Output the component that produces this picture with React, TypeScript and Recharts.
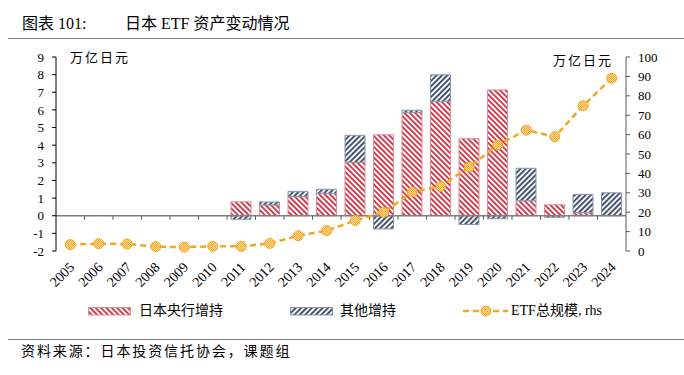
// 日本ETF资产变动情况 — 堆叠柱（央行/其他增持）+ 右轴总规模折线
import React from 'react';
import {
  ComposedChart,
  Bar,
  Line,
  XAxis,
  YAxis,
  ReferenceLine,
} from 'recharts';

const years = [
  '2005', '2006', '2007', '2008', '2009', '2010', '2011', '2012', '2013', '2014',
  '2015', '2016', '2017', '2018', '2019', '2020', '2021', '2022', '2023', '2024',
];
// 万亿日元
const bojBuy = [0, 0, 0, 0, 0, 0, 0.79, 0.61, 1.08, 1.27, 3.03, 4.59, 5.86, 6.49, 4.37, 7.13, 0.85, 0.62, 0.17, 0];
const otherBuy = [0, 0, 0, 0, 0, 0, -0.2, 0.17, 0.3, 0.23, 1.53, -0.75, 0.12, 1.5, -0.5, -0.17, 1.84, -0.09, 1.04, 1.3];
const etfTotal = [3.3, 3.8, 3.6, 2.2, 2.0, 2.4, 2.4, 3.9, 7.9, 10.5, 15.7, 20, 30.4, 33.3, 43.3, 54.6, 62.3, 58.9, 74.9, 89.1];

const leftTicks = [-2, -1, 0, 1, 2, 3, 4, 5, 6, 7, 8, 9];
const rightTicks = [0, 10, 20, 30, 40, 50, 60, 70, 80, 90, 100];

const data = years.map((y, i) => ({
  year: y,
  boj: bojBuy[i],
  other: otherBuy[i],
  etf: etfTotal[i],
}));

const FONT = "'Liberation Serif', 'Noto Sans CJK SC', serif";
const RED = '#D13B4B';
const BLUE = '#44546A';
const ORANGE = '#F5A623';

function YearTick({ x, y, payload }: any) {
  const px = x + 5;
  const py = y + 17;
  return (
    <text
      x={px}
      y={py}
      transform={`rotate(-45, ${px}, ${py})`}
      textAnchor="end"
      fontSize={14}
      fontFamily={FONT}
      fill="#000"
    >
      {payload.value}
    </text>
  );
}

function Patterns() {
  return (
    <svg width={0} height={0} style={{ position: 'absolute' }}>
      <defs>
        <pattern id="bojHatch" patternUnits="userSpaceOnUse" width={3.8} height={3.8} patternTransform="rotate(-45)">
          <rect width={3.8} height={3.8} fill="#fff" />
          <rect width={1.9} height={3.8} fill={RED} />
        </pattern>
        <pattern id="otherHatch" patternUnits="userSpaceOnUse" width={3.8} height={3.8} patternTransform="rotate(45)">
          <rect width={3.8} height={3.8} fill="#fff" />
          <rect width={2} height={3.8} fill={BLUE} />
        </pattern>
        <pattern id="dotFill" patternUnits="userSpaceOnUse" width={2} height={2}>
          <rect width={2} height={2} fill="#FFE1A8" />
          <rect width={1} height={1} fill={ORANGE} />
          <rect x={1} y={1} width={1} height={1} fill={ORANGE} />
        </pattern>
      </defs>
    </svg>
  );
}

function Legend() {
  const text: React.CSSProperties = {
    position: 'absolute',
    top: 302,
    fontSize: 14,
    fontFamily: FONT,
    lineHeight: '18px',
  };
  return (
    <>
      <svg width={44} height={9} style={{ position: 'absolute', left: 88, top: 307 }}>
        <rect x={0.5} y={0.5} width={42} height={7.5} fill="url(#bojHatch)" stroke="#E08A95" />
      </svg>
      <div style={{ ...text, left: 139 }}>日本央行增持</div>
      <svg width={44} height={9} style={{ position: 'absolute', left: 290, top: 307 }}>
        <rect x={0.5} y={0.5} width={42} height={7.5} fill="url(#otherHatch)" stroke="#8497B0" />
      </svg>
      <div style={{ ...text, left: 340 }}>其他增持</div>
      <svg width={48} height={14} style={{ position: 'absolute', left: 462, top: 304 }}>
        <line x1={1} y1={7} x2={46} y2={7} stroke={ORANGE} strokeWidth={2.5} strokeDasharray="6 4" />
        <circle cx={24} cy={7} r={5} fill="url(#dotFill)" stroke={ORANGE} strokeWidth={1} />
      </svg>
      <div style={{ ...text, left: 511 }}>ETF总规模, rhs</div>
    </>
  );
}

export default function App() {
  return (
    <div style={{ position: 'absolute', left: 0, top: 0, width: 684, height: 375, background: '#fff', fontFamily: FONT }}>
      <Patterns />
      <div style={{ position: 'absolute', left: 22, top: 10, fontSize: 16 }}>图表 101:</div>
      <div style={{ position: 'absolute', left: 125, top: 10, fontSize: 16 }}>日本 ETF 资产变动情况</div>
      <div style={{ position: 'absolute', left: 8, top: 38, width: 676, borderTop: '1.5px solid #808080' }} />

      <div style={{ position: 'absolute', left: 70, top: 47, fontSize: 13, letterSpacing: 2 }}>万亿日元</div>
      <div style={{ position: 'absolute', left: 553, top: 50, fontSize: 13, letterSpacing: 2 }}>万亿日元</div>

      <div style={{ position: 'absolute', left: 0, top: 0 }}>
        <ComposedChart
          width={684}
          height={375}
          data={data}
          stackOffset="sign"
          margin={{ top: 57, right: 18, bottom: 84, left: 16 }}
        >
          <XAxis
            dataKey="year"
            xAxisId="x"
            axisLine={false}
            tickLine={false}
            tickSize={0}
            tickMargin={0}
            height={40}
            interval={0}
            tick={<YearTick />}
          />
          <YAxis
            yAxisId="left"
            domain={[-2, 9]}
            ticks={leftTicks}
            interval={0}
            width={40}
            axisLine={{ stroke: '#000' }}
            tickLine={{ stroke: '#000' }}
            tickSize={4}
            tickMargin={8}
            tick={{ fontSize: 13, fill: '#000', fontFamily: FONT }}
          />
          <YAxis
            yAxisId="right"
            orientation="right"
            domain={[0, 100]}
            ticks={rightTicks}
            interval={0}
            width={40}
            axisLine={{ stroke: '#595959' }}
            tickLine={{ stroke: '#595959' }}
            tickSize={4}
            tickMargin={8}
            tick={{ fontSize: 13, fill: '#000', fontFamily: FONT, textAnchor: 'start' }}
          />
          <ReferenceLine xAxisId="x" yAxisId="left" y={0} stroke="#808080" strokeWidth={1.5} />
          {years.slice(1).map((y) => (
            <ReferenceLine
              key={y}
              xAxisId="x"
              yAxisId="left"
              position="start"
              segment={[{ x: y, y: 0 }, { x: y, y: -0.23 }]}
              stroke="#595959"
              strokeWidth={1}
            />
          ))}
          <Bar
            xAxisId="x"
            yAxisId="left"
            dataKey="boj"
            stackId="a"
            barSize={20}
            fill="url(#bojHatch)"
            stroke="#E08A95"
            strokeWidth={1}
            isAnimationActive={false}
          />
          <Bar
            xAxisId="x"
            yAxisId="left"
            dataKey="other"
            stackId="a"
            barSize={20}
            fill="url(#otherHatch)"
            stroke="#8497B0"
            strokeWidth={1}
            isAnimationActive={false}
          />
          <Line
            xAxisId="x"
            yAxisId="right"
            dataKey="etf"
            stroke={ORANGE}
            strokeWidth={2.5}
            strokeDasharray="6 4"
            dot={{ r: 5, fill: 'url(#dotFill)', stroke: ORANGE, strokeWidth: 1, strokeDasharray: '' }}
            isAnimationActive={false}
          />
        </ComposedChart>
      </div>

      <Legend />

      <div style={{ position: 'absolute', left: 8, top: 339, width: 676, borderTop: '1.5px solid #808080' }} />
      <div style={{ position: 'absolute', left: 21, top: 340, fontSize: 14, letterSpacing: 1.9 }}>
        资料来源：日本投资信托协会，课题组
      </div>
    </div>
  );
}
